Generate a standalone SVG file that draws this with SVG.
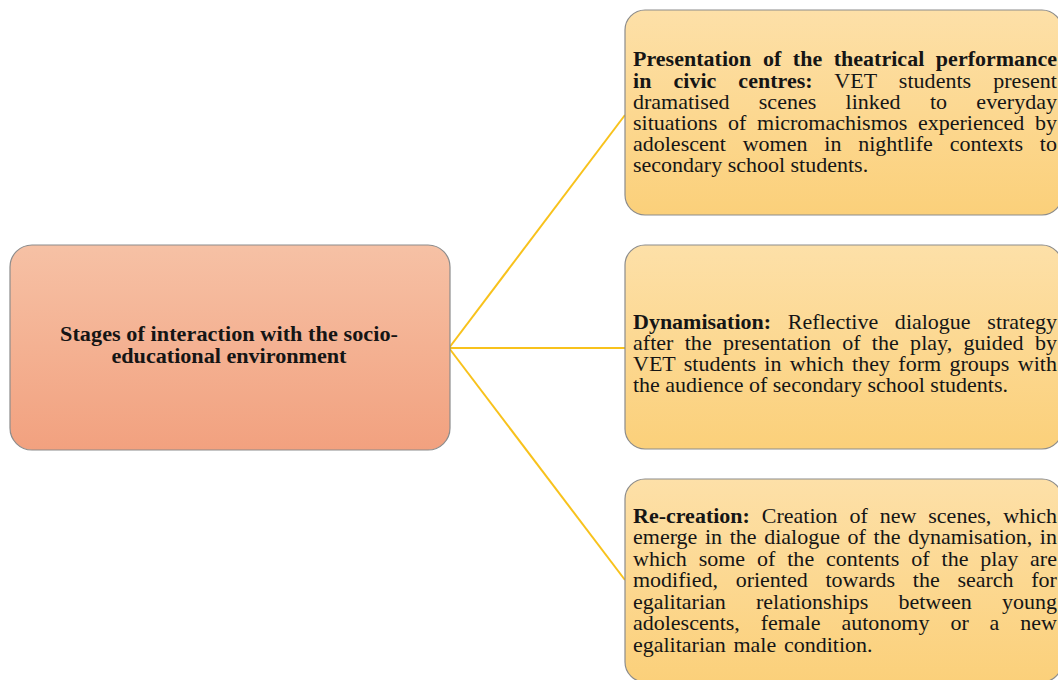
<svg xmlns="http://www.w3.org/2000/svg" width="1058" height="680" viewBox="0 0 1058 680">
<defs>
<linearGradient id="gLeft" x1="0" y1="0" x2="0" y2="1">
<stop offset="0" stop-color="#F6C1A5"/>
<stop offset="1" stop-color="#F2A17F"/>
</linearGradient>
<linearGradient id="gRight" x1="0" y1="0" x2="0" y2="1">
<stop offset="0" stop-color="#FDE0A8"/>
<stop offset="1" stop-color="#FBD07A"/>
</linearGradient>
<style>
.box{stroke:#8c8c8c;stroke-width:1.2}
.conn{stroke:#F8C21C;stroke-width:2;fill:none}
.t{font-family:"Liberation Serif","Times New Roman",serif;font-size:20px;fill:#151515}
.b{font-weight:bold}
.title{font-family:"Liberation Serif","Times New Roman",serif;font-size:20px;font-weight:bold;fill:#151515}
</style>
</defs>
<rect width="1058" height="680" fill="#ffffff"/>
<g id="connectors">
<line class="conn" x1="449" y1="348" x2="625" y2="115"/>
<line class="conn" x1="449" y1="348" x2="625" y2="348"/>
<line class="conn" x1="449" y1="348" x2="625" y2="580"/>
</g>
<g id="node-stages">
<rect class="box" x="10" y="245" width="440" height="205" rx="22" fill="url(#gLeft)"/>
<g transform="matrix(1.11,0,0,1,-25.2,0)">
<text class="title" x="229" y="341" text-anchor="middle" textLength="304.5" lengthAdjust="spacing">Stages of interaction with the socio-</text>
<text class="title" x="229" y="363" text-anchor="middle" textLength="211.7" lengthAdjust="spacing">educational environment</text>
</g>
</g>
<g id="node-presentation">
<rect class="box" x="625" y="10" width="437" height="205" rx="20" fill="url(#gRight)"/>
<g transform="matrix(1.1,0,0,1,-63.3,0)">
<text class="t" x="633" y="66" textLength="385.4" lengthAdjust="spacing" style="word-spacing:5.5px"><tspan class="b">Presentation of the theatrical performance</tspan></text>
<text class="t" x="633" y="88" textLength="385.4" lengthAdjust="spacing" style="word-spacing:15px"><tspan class="b">in civic centres:</tspan> VET students present</text>
<text class="t" x="633" y="109" textLength="385.4" lengthAdjust="spacing" style="word-spacing:21.7px">dramatised scenes linked to everyday</text>
<text class="t" x="633" y="130" textLength="385.4" lengthAdjust="spacing" style="word-spacing:4.7px">situations of micromachismos experienced by</text>
<text class="t" x="633" y="151" textLength="385.4" lengthAdjust="spacing" style="word-spacing:10.3px">adolescent women in nightlife contexts to</text>
<text class="t" x="633" y="172">secondary school students.</text>
</g>
</g>
<g id="node-dynamisation">
<rect class="box" x="625" y="245" width="437" height="204" rx="20" fill="url(#gRight)"/>
<g transform="matrix(1.1,0,0,1,-63.3,0)">
<text class="t" x="633" y="329" textLength="385.4" lengthAdjust="spacing" style="word-spacing:10.2px"><tspan class="b">Dynamisation:</tspan> Reflective dialogue strategy</text>
<text class="t" x="633" y="350" textLength="385.4" lengthAdjust="spacing" style="word-spacing:5.2px">after the presentation of the play, guided by</text>
<text class="t" x="633" y="371" textLength="385.4" lengthAdjust="spacing" style="word-spacing:2.6px">VET students in which they form groups with</text>
<text class="t" x="633" y="392">the audience of secondary school students.</text>
</g>
</g>
<g id="node-recreation">
<rect class="box" x="625" y="479" width="437" height="203" rx="20" fill="url(#gRight)"/>
<g transform="matrix(1.1,0,0,1,-63.3,0)">
<text class="t" x="633" y="523" textLength="385.4" lengthAdjust="spacing" style="word-spacing:5.8px"><tspan class="b">Re-creation:</tspan> Creation of new scenes, which</text>
<text class="t" x="633" y="544" textLength="385.4" lengthAdjust="spacing" style="word-spacing:1.9px">emerge in the dialogue of the dynamisation, in</text>
<text class="t" x="633" y="566" textLength="385.4" lengthAdjust="spacing" style="word-spacing:5.8px">which some of the contents of the play are</text>
<text class="t" x="633" y="587" textLength="385.4" lengthAdjust="spacing" style="word-spacing:11.1px">modified, oriented towards the search for</text>
<text class="t" x="633" y="609" textLength="385.4" lengthAdjust="spacing" style="word-spacing:22.4px">egalitarian relationships between young</text>
<text class="t" x="633" y="630" textLength="385.4" lengthAdjust="spacing" style="word-spacing:14px">adolescents, female autonomy or a new</text>
<text class="t" x="633" y="652" style="word-spacing:2px">egalitarian male condition.</text>
</g>
</g>
</svg>
